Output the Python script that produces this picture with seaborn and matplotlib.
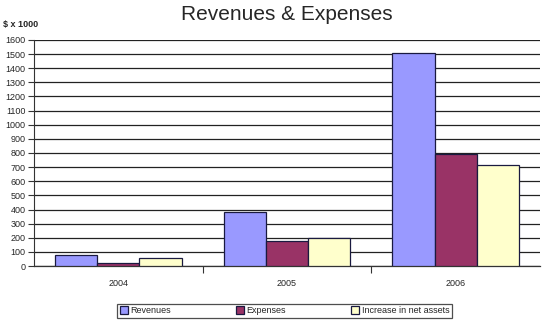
import matplotlib
matplotlib.use("Agg")
import matplotlib.pyplot as plt
import seaborn as sns
import pandas as pd

years = ["2004", "2005", "2006"]
series = ["Revenues", "Expenses", "Increase in net assets"]
revenues = [78, 379, 1510]
expenses = [23, 176, 793]
increase = [56, 198, 715]
colors = ["#9999FF", "#993366", "#FFFFCC"]

rows = []
for name, vals in zip(series, [revenues, expenses, increase]):
    for y, v in zip(years, vals):
        rows.append({"Year": y, "Series": name, "Value": v})
df = pd.DataFrame(rows)

sns.set_style("white")
plt.rcParams["font.family"] = ["Liberation Sans", "DejaVu Sans"]

fig = plt.figure(figsize=(5.44, 3.29), dpi=100)
ax = fig.add_axes([34/544, 1-266/329, 506/544, 226/329])

sns.barplot(data=df, x="Year", y="Value", hue="Series", palette=colors,
            saturation=1, width=0.75, edgecolor="#1a1a40", linewidth=0.9, ax=ax,
            legend=True, zorder=3)

ax.set_ylim(0, 1600)
ax.set_xlim(-0.5, 2.5)
ax.set_yticks(range(0, 1700, 100))
ax.yaxis.grid(True, color="#222222", linewidth=0.9, zorder=0)
ax.set_axisbelow(True)
ax.tick_params(axis="y", labelsize=6.5, length=4, width=0.8, color="#333333", pad=2, direction="out", left=True)
ax.set_xticks([0, 1, 2])
ax.set_xticklabels(years)
ax.set_xticks([0.5, 1.5], minor=True)
ax.tick_params(axis="x", which="major", length=0, labelsize=6.5, pad=9)
ax.tick_params(axis="x", which="minor", length=5, width=0.8, color="#333333", direction="out", bottom=True)
ax.set_xlabel("")
ax.set_ylabel("")
for s in ["top", "right"]:
    ax.spines[s].set_visible(False)
ax.spines["left"].set_color("#333333")
ax.spines["left"].set_linewidth(0.8)
ax.spines["bottom"].set_color("#333333")
ax.spines["bottom"].set_linewidth(0.9)

fig.text(287/544, 1-15/329, "Revenues & Expenses", ha="center", va="center", fontsize=15)
fig.text(3/544, 1-25/329, "$ x 1000", ha="left", va="center", fontsize=6.5, fontweight="bold")

handles, labels = ax.get_legend_handles_labels()
ax.get_legend().remove()
leg = fig.legend(handles, labels, ncol=3, loc="lower left",
                 bbox_to_anchor=(117/544, 1-318/329, 335/544, 18/329),
                 mode="expand", fontsize=6.5, frameon=True, fancybox=False,
                 edgecolor="#222222", handlelength=0.9, handleheight=0.9,
                 handletextpad=0.3, borderpad=0.3, borderaxespad=0)
leg.get_frame().set_linewidth(0.9)

fig.savefig("out.png", dpi=100)
